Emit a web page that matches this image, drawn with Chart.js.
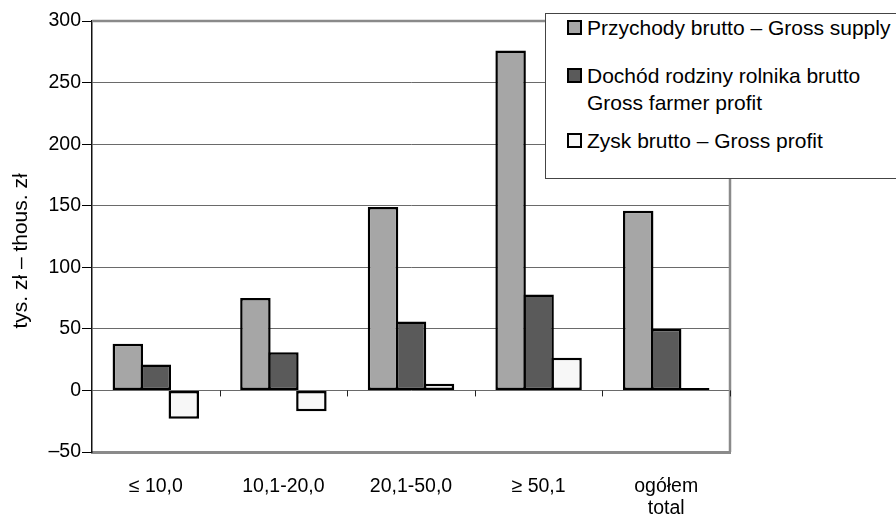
<!DOCTYPE html>
<html>
<head>
<meta charset="utf-8">
<script src="https://cdn.jsdelivr.net/npm/chart.js@4.4.1/dist/chart.umd.min.js"></script>
<style>
  html, body { margin: 0; padding: 0; background: #fff; overflow: hidden; }
  #wrap { position: relative; width: 896px; height: 516px; }
  #legend { position: absolute; left: 545px; top: 13px; width: 420px; height: 166px;
    border: 1px solid #444; box-sizing: border-box; background: #fff; }
  .lg-item { position: absolute; left: 587px; font: 21px "Liberation Sans", Arial, sans-serif;
    line-height: 27px; color: #000; white-space: nowrap; }
  .lg-box { position: absolute; left: 567px; width: 15px; height: 15px; border: 2px solid #000;
    box-sizing: border-box; }
</style>
</head>
<body>
<div id="wrap">
  <canvas id="chart" width="896" height="516"></canvas>
  <div id="legend"></div>
</div>
<script>
// categories: farm size groups (ha)
const categories = ['≤ 10,0', '10,1-20,0', '20,1-50,0', '≥ 50,1', ['ogółem', 'total']];

// series values, thous. zł
const grossSupply = [38, 75, 149, 276, 146];
const farmerProfit = [21, 31, 56, 78, 50];
const grossProfit = [-23, -17, 5.5, 26.5, 2];

const seriesNames = [
  ['Przychody brutto – Gross supply'],
  ['Dochód rodziny rolnika brutto', 'Gross farmer profit'],
  ['Zysk brutto – Gross profit']
];
const seriesColors = ['#a6a6a6', '#5a5a5a', '#f7f7f7'];

// y axis ticks
const yMin = -50;
const yMax = 300;
const yStep = 50;

const FONT = '"Liberation Sans", Arial, sans-serif';

// legend (html, sits on top of the plot like the original)
const legendTops = [14, 62, 127];
const legendBoxTops = [20, 68, 133];
const wrap = document.getElementById('wrap');
seriesNames.forEach((lines, i) => {
  const box = document.createElement('div');
  box.className = 'lg-box';
  box.style.top = legendBoxTops[i] + 'px';
  box.style.background = seriesColors[i];
  wrap.appendChild(box);
  const txt = document.createElement('div');
  txt.className = 'lg-item';
  txt.style.top = legendTops[i] + 'px';
  txt.innerHTML = lines.join('<br>');
  wrap.appendChild(txt);
});

// frame, zero-line ticks and y title
const extras = {
  id: 'extras',
  beforeDatasetsDraw(chart) {
    const { ctx, chartArea: a, scales: { x, y } } = chart;
    ctx.save();
    ctx.strokeStyle = '#8a8a8a';
    ctx.lineWidth = 2.5;
    ctx.beginPath();
    ctx.moveTo(a.left, a.top);
    ctx.lineTo(a.right, a.top);
    ctx.lineTo(a.right, a.bottom);
    ctx.stroke();
    // small ticks under the zero line between categories
    const zero = y.getPixelForValue(0);
    const w = (x.right - x.left) / categories.length;
    ctx.strokeStyle = '#222';
    ctx.lineWidth = 1;
    for (let i = 1; i <= categories.length; i++) {
      const px = Math.round(x.left + i * w) + 0.5;
      ctx.beginPath();
      ctx.moveTo(px, zero);
      ctx.lineTo(px, zero + 6);
      ctx.stroke();
    }
    ctx.restore();
  },
  afterDraw(chart) {
    const { ctx } = chart;
    ctx.save();
    ctx.translate(21, 251);
    ctx.rotate(-Math.PI / 2);
    ctx.font = '21px ' + FONT;
    ctx.fillStyle = '#000';
    ctx.textAlign = 'center';
    ctx.textBaseline = 'middle';
    ctx.fillText('tys. zł – thous. zł', 0, 0);
    ctx.restore();
  }
};

const barOpts = {
  borderColor: '#000',
  borderWidth: 2.5,
  borderSkipped: false,
  categoryPercentage: 0.658,
  barPercentage: 1.089
};

new Chart(document.getElementById('chart'), {
  type: 'bar',
  data: {
    labels: categories,
    datasets: [
      { label: seriesNames[0].join(' '), data: grossSupply, backgroundColor: seriesColors[0], ...barOpts },
      { label: seriesNames[1].join(' '), data: farmerProfit, backgroundColor: seriesColors[1], ...barOpts },
      { label: seriesNames[2].join(' '), data: grossProfit, backgroundColor: seriesColors[2], ...barOpts }
    ]
  },
  options: {
    responsive: false,
    animation: false,
    layout: { padding: { top: 21, right: 166, left: 0, bottom: 0 } },
    plugins: {
      legend: { display: false },
      tooltip: { enabled: false }
    },
    scales: {
      x: {
        grid: { display: false },
        border: { display: true, color: '#8a8a8a', width: 3 },
        ticks: {
          color: '#000',
          padding: 16,
          maxRotation: 0,
          autoSkip: false,
          font: { family: FONT, size: 19.5, lineHeight: 1.1 }
        },
        afterFit: (s) => { s.height = 64; }
      },
      y: {
        min: yMin,
        max: yMax,
        ticks: {
          stepSize: yStep,
          color: '#000',
          padding: 1,
          font: { family: FONT, size: 19.5 },
          callback: (v) => (v < 0 ? '–' + Math.abs(v) : String(v))
        },
        grid: {
          color: (c) => (c.tick && (c.tick.value === yMin || c.tick.value === yMax) ? 'rgba(0,0,0,0)' : '#6a6a6a'),
          lineWidth: 1,
          tickColor: '#000',
          tickLength: 10
        },
        border: { display: true, color: '#111', width: 1.5 },
        afterFit: (s) => { s.width = 92; }
      }
    }
  },
  plugins: [extras]
});
</script>
</body>
</html>
